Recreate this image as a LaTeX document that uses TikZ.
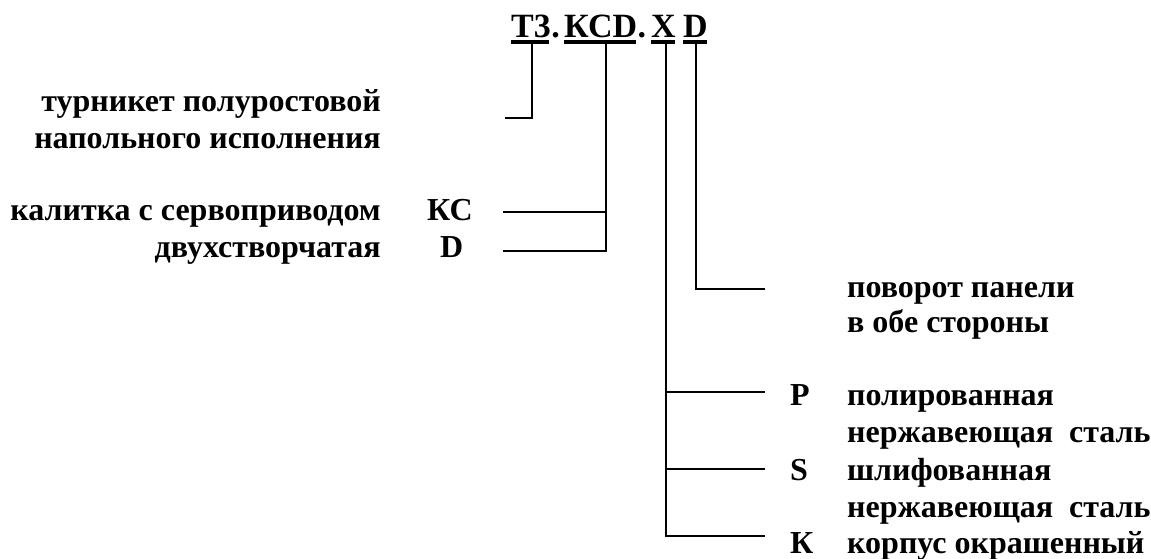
\documentclass[tikz,border=0pt]{standalone}
\usepackage{fontspec}
\setmainfont{Liberation Serif}
\begin{document}
\begin{tikzpicture}[x=1pt,y=-1pt,
  txt/.style={inner sep=0pt,font=\fontsize{32}{36}\selectfont\bfseries},
  ttl/.style={inner sep=0pt,font=\fontsize{34}{40}\selectfont\bfseries,anchor=base west},
  ln/.style={line width=2pt},
  ul/.style={line width=3.2pt}]
\useasboundingbox (0,0) rectangle (1151,558);
% title
\node[ttl] (t3) at (511,37) {Т3};
\node[ttl,anchor=base west] (d1) at (t3.base east) {.};
\node[ttl] (kcd) at (564,37) {КСD};
\node[ttl,anchor=base west] (d2) at (kcd.base east) {.};
\node[ttl] (x) at (651,37) {X};
\node[ttl] (d) at (683,37) {D};
\draw[ul] (511,42) -- (549,42);
\draw[ul] (564,42) -- (636,42);
\draw[ul] (651,42) -- (675,42);
\draw[ul] (683,42) -- (707,42);
% coordinates
\coordinate (a1) at (532,42); \coordinate (a2) at (532,118); \coordinate (a3) at (505,118);
\coordinate (b1) at (606,42); \coordinate (b2) at (606,212); \coordinate (b3) at (606,251);
\coordinate (bk) at (503,212); \coordinate (bd) at (503,251);
\coordinate (c1) at (666,42); \coordinate (cp) at (666,392); \coordinate (cs) at (666,469); \coordinate (ck) at (666,536);
\coordinate (cpe) at (765,392); \coordinate (cse) at (765,469); \coordinate (cke) at (765,536);
\coordinate (e1) at (696,42); \coordinate (e2) at (696,289); \coordinate (e3) at (765,289);
% connectors
\draw[ln] (a1) -- (a2) -- (a3);
\draw[ln] (b1) -- (b3) -- (bd);
\draw[ln] (b2) -- (bk);
\draw[ln] (c1) -- (ck) -- (cke);
\draw[ln] (cp) -- (cpe);
\draw[ln] (cs) -- (cse);
\draw[ln] (e1) -- (e2) -- (e3);
% left texts
\node[txt,anchor=base east] (l1) at (381,111) {турникет полуростовой};
\node[txt,anchor=base east] (l2) at (381,148) {напольного исполнения};
\node[txt,anchor=base east] (l3) at (381,220) {калитка с сервоприводом};
\node[txt,anchor=base east] (l4) at (381,257) {двухстворчатая};
\node[txt,anchor=base west] (kc) at (427,220) {КС};
\node[txt,anchor=base west] (dd) at (440,257) {D};
% right texts
\node[txt,anchor=base west] (r1) at (847,297) {поворот панели};
\node[txt,anchor=base west] (r2) at (847,332) {в обе стороны};
\node[txt,anchor=base west] (p) at (790,405) {Р};
\node[txt,anchor=base west] (r3) at (847,405) {полированная};
\node[txt,anchor=base west] (r4) at (847,442) {нержавеющая\ \ сталь};
\node[txt,anchor=base west] (s) at (790,480) {S};
\node[txt,anchor=base west] (r5) at (847,480) {шлифованная};
\node[txt,anchor=base west] (r6) at (847,517) {нержавеющая\ \ сталь};
\node[txt,anchor=base west] (k) at (790,553) {К};
\node[txt,anchor=base west] (r7) at (847,553) {корпус окрашенный};
\end{tikzpicture}
\end{document}
